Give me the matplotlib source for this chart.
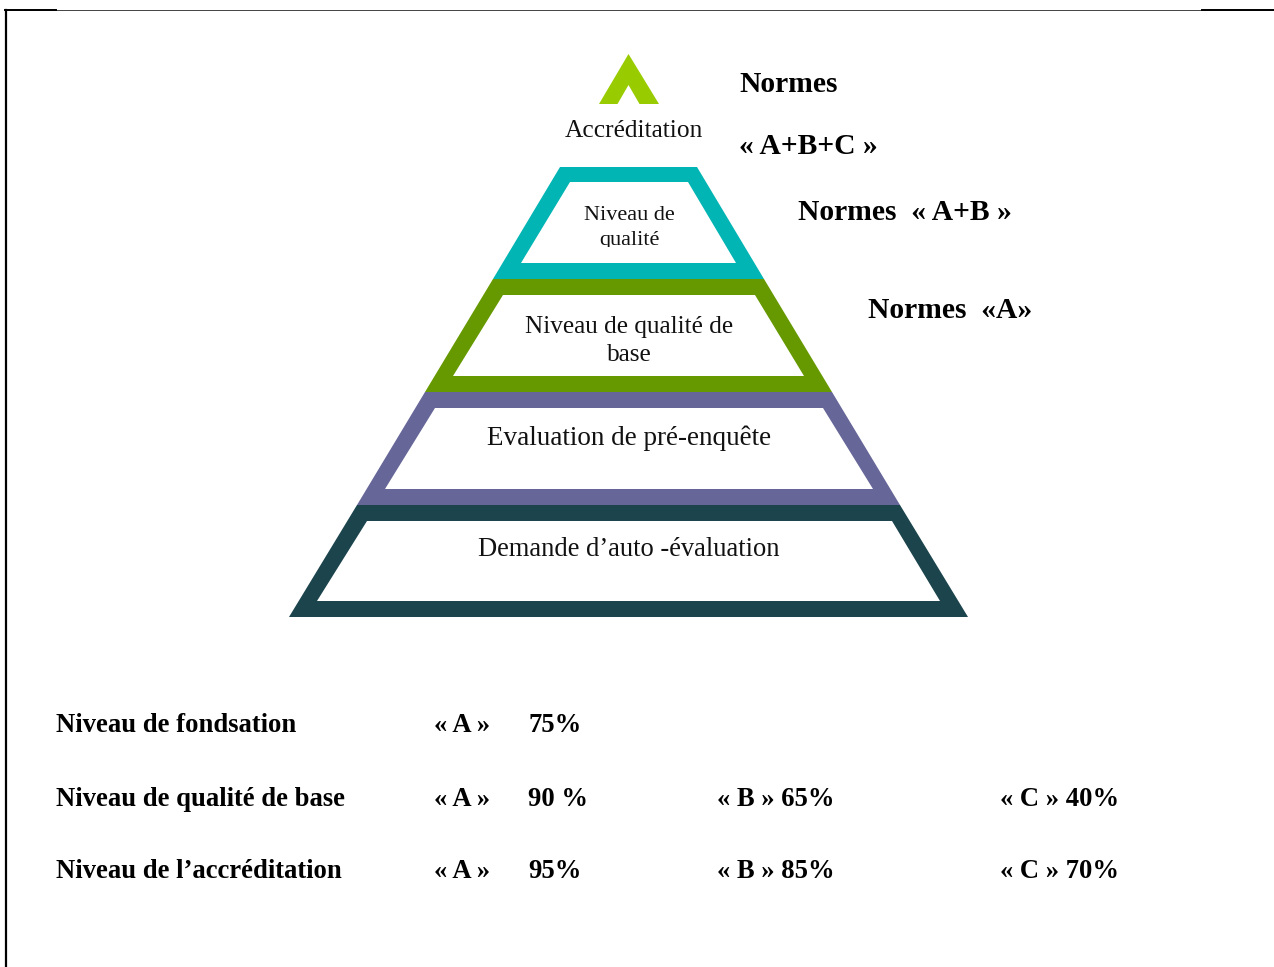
#!/usr/bin/env python3

import matplotlib
matplotlib.use('Agg')
import matplotlib.pyplot as plt
from matplotlib.patches import Polygon, Rectangle

plt.rcParams['font.family'] = ['Liberation Serif', 'DejaVu Serif']

W, H = 1274, 967

# pyramid levels, top to bottom
level_names = ['Niveau de\nqualité', 'Niveau de qualité de\nbase',
               'Evaluation de pré-enquête', 'Demande d’auto -évaluation']
level_colors = ['#00b5b3', '#669900', '#666699', '#1b444c']
level_outer = [(167, 279, 560, 697, 493, 764),
               (279, 392, 493, 764, 425, 832),
               (392, 505, 425, 832, 357, 900),
               (505, 617, 357, 900, 289, 968)]
level_inner = [(182, 263, 570, 688, 521, 736),
               (295, 376, 503, 755, 453, 804),
               (408, 489, 435, 823, 385, 873),
               (521, 601, 367, 892, 317, 940)]
level_text_y = [228, 341, 438, 549]
level_fonts = [16, 18.2, 19.5, 19.1]

norm_labels = ['Normes', '« A+B+C »', 'Normes  « A+B »', 'Normes  «A»']
norm_x = [739, 739, 798, 868]
norm_y = [84, 146, 213, 310]

row_names = ['Niveau de fondsation', 'Niveau de qualité de base', 'Niveau de l’accréditation']
row_a = ['« A »', '« A »', '« A »']
row_pct = ['75%', '90 %', '95%']
row_b = ['', '« B » 65%', '« B » 85%']
row_c = ['', '« C » 40%', '« C » 70%']
row_y = [726, 800, 872]


def trapezoid(ax, spec, color):
    top, bottom, tl, tr, bl, br = spec
    ax.add_patch(Polygon([(tl, top), (tr, top), (br, bottom), (bl, bottom)],
                         closed=True, facecolor=color, edgecolor='none'))


def bold(ax, x, y, s, size=19.2):
    ax.text(x, y, s, ha='left', va='center', fontsize=size, fontweight='bold', color='black')


fig = plt.figure(figsize=(W / 100, H / 100), dpi=100)
ax = fig.add_axes([0, 0, 1, 1])
ax.set_xlim(0, W)
ax.set_ylim(H, 0)
ax.axis('off')

# page border
ax.plot([5, 1274], [9.5, 9.5], color='#444444', lw=0.7)
ax.plot([5, 56], [9.8, 9.8], color='black', lw=1.4)
ax.plot([1202, 1274], [9.8, 9.8], color='black', lw=1.4)
ax.plot([6, 6], [10, H], color='black', lw=1.6)

# apex
ax.add_patch(Polygon([(628.5, 54), (659, 104), (639.5, 104), (628.5, 85), (617.5, 104), (599, 104)],
                     closed=True, facecolor='#99cc00', edgecolor='none'))
ax.text(634, 131, 'Accréditation', ha='center', va='center', fontsize=18.3, color='#111111')

for name, color, outer, inner, y, size in zip(level_names, level_colors, level_outer,
                                              level_inner, level_text_y, level_fonts):
    trapezoid(ax, outer, color)
    trapezoid(ax, inner, 'white')
    t = ax.text(629, y, name, ha='center', va='center', fontsize=size,
                color='#111111', linespacing=1.38)
    if name.startswith('Niveau de\n'):
        # the box cuts the second line off in the reference
        t.set_clip_on(True)
        t.set_clip_path(Rectangle((500, 190), 260, 57, transform=ax.transData))

for label, x, y in zip(norm_labels, norm_x, norm_y):
    bold(ax, x, y, label, size=21.3)

for name, a, pct, b, c, y in zip(row_names, row_a, row_pct, row_b, row_c, row_y):
    bold(ax, 56, y, name)
    bold(ax, 434, y, a)
    bold(ax, 528, y, pct)
    bold(ax, 717, y, b)
    bold(ax, 1000, y, c)

fig.savefig('out.png', dpi=100)
